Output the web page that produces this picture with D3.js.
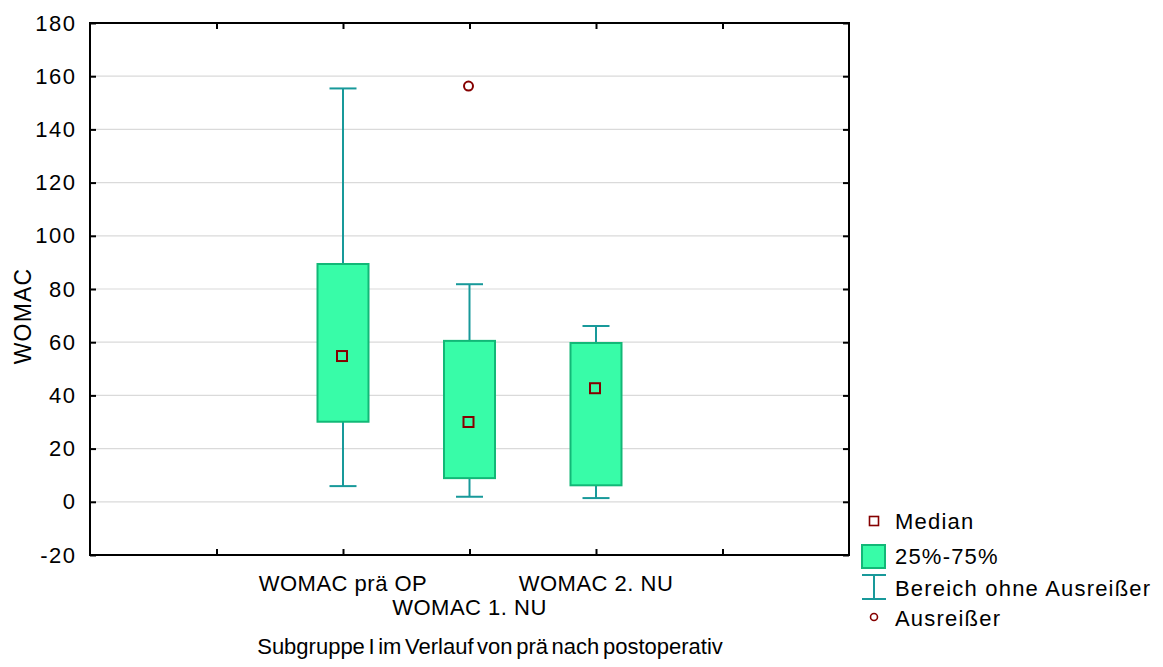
<!DOCTYPE html>
<html>
<head>
<meta charset="utf-8">
<script src="https://cdn.jsdelivr.net/npm/d3@7"></script>
<style>
  html, body { margin: 0; padding: 0; background: #fff; }
  svg text { font-family: "Liberation Sans", Arial, sans-serif; fill: #000; }
</style>
</head>
<body>
<svg id="chart" width="1163" height="667"></svg>
<script>
// Categories and their slot positions on the x axis
const categories = ["WOMAC prä OP", "WOMAC 1. NU", "WOMAC 2. NU"];
const slots = [2, 3, 4];
const labelRows = [0, 1, 0];

// Box statistics per category
const whiskerLow  = [5.9, 1.9, 1.4];
const q1          = [30.1, 8.9, 6.2];
const median      = [54.8, 30.0, 42.7];
const q3          = [89.4, 60.5, 59.7];
const whiskerHigh = [155.4, 81.8, 66.1];

// Outliers: category index and value
const outlierCat = [1];
const outlierVal = [156.3];

// Axis ticks
const yTicks = [-20, 0, 20, 40, 60, 80, 100, 120, 140, 160, 180];
const xTicks = [1, 2, 3, 4, 5];

const legendItems = ["Median", "25%-75%", "Bereich ohne Ausreißer", "Ausreißer"];

const C = {
  fill: "#38FCA8",
  stroke: "#12B877",
  whisker: "#18999A",
  median: "#850000",
  grid: "#DADADA"
};

const svg = d3.select("#chart");
const mLeft = 90, mRight = 849, mTop = 23, mBottom = 555;

const x = d3.scaleLinear().domain([0, 6]).range([mLeft, mRight]);
const y = d3.scaleLinear().domain([-20, 180]).range([mBottom, mTop]);

// Grid
svg.append("g").selectAll("line").data(yTicks.slice(1, -1)).join("line")
  .attr("x1", mLeft).attr("x2", mRight)
  .attr("y1", d => y(d)).attr("y2", d => y(d))
  .attr("stroke", C.grid).attr("stroke-width", 1.2);

// Axes with inward ticks
const fontSize = 22;
const gL = svg.append("g").attr("transform", `translate(${mLeft},0)`)
  .call(d3.axisLeft(y).tickValues(yTicks).tickSize(-6).tickPadding(13.5)
    .tickFormat(d => String(d)));
const gR = svg.append("g").attr("transform", `translate(${mRight},0)`)
  .call(d3.axisRight(y).tickValues(yTicks).tickSize(-6).tickFormat(""));
const gB = svg.append("g").attr("transform", `translate(0,${mBottom})`)
  .call(d3.axisBottom(x).tickValues(xTicks).tickSize(-6).tickFormat(""));
const gT = svg.append("g").attr("transform", `translate(0,${mTop})`)
  .call(d3.axisTop(x).tickValues(xTicks).tickSize(-6).tickFormat(""));

[gL, gR, gB, gT].forEach(g => {
  g.select(".domain").remove();
  g.selectAll(".tick line").attr("stroke", "#000").attr("stroke-width", 2);
});
gL.selectAll(".tick text")
  .attr("font-size", fontSize)
  .attr("font-family", "Liberation Sans, Arial, sans-serif")
  .attr("letter-spacing", 1.5)
  .attr("fill", "#000");

// Frame
svg.append("rect")
  .attr("x", mLeft).attr("y", mTop)
  .attr("width", mRight - mLeft).attr("height", mBottom - mTop)
  .attr("fill", "none").attr("stroke", "#000").attr("stroke-width", 2);

// Category labels (staggered)
svg.append("g").selectAll("text").data(categories).join("text")
  .attr("x", (d, i) => x(slots[i]))
  .attr("y", (d, i) => 591 + labelRows[i] * 24)
  .attr("text-anchor", "middle")
  .attr("font-size", fontSize)
  .attr("letter-spacing", 0.5)
  .text(d => d);

// Axis titles
svg.append("text")
  .attr("transform", "translate(31,316) rotate(-90)")
  .attr("text-anchor", "middle")
  .attr("font-size", 23)
  .attr("letter-spacing", 1.2)
  .text("WOMAC");

svg.append("text")
  .attr("x", 490).attr("y", 654)
  .attr("text-anchor", "middle")
  .attr("font-size", fontSize)
  .attr("word-spacing", -2.5)
  .text("Subgruppe I im Verlauf von prä nach postoperativ");

// Boxes
const boxW = 51, capW = 27;
const plot = svg.append("g");
categories.forEach((c, i) => {
  const cx = x(slots[i]);
  plot.append("line")
    .attr("x1", cx).attr("x2", cx)
    .attr("y1", y(whiskerHigh[i])).attr("y2", y(q3[i]))
    .attr("stroke", C.whisker).attr("stroke-width", 2);
  plot.append("line")
    .attr("x1", cx).attr("x2", cx)
    .attr("y1", y(q1[i])).attr("y2", y(whiskerLow[i]))
    .attr("stroke", C.whisker).attr("stroke-width", 2);
  [whiskerHigh[i], whiskerLow[i]].forEach(v => {
    plot.append("line")
      .attr("x1", cx - capW / 2).attr("x2", cx + capW / 2)
      .attr("y1", y(v)).attr("y2", y(v))
      .attr("stroke", C.whisker).attr("stroke-width", 2);
  });
  plot.append("rect")
    .attr("x", cx - boxW / 2).attr("y", y(q3[i]))
    .attr("width", boxW).attr("height", y(q1[i]) - y(q3[i]))
    .attr("fill", C.fill).attr("stroke", C.stroke).attr("stroke-width", 2);
  plot.append("rect")
    .attr("x", cx - 6).attr("y", y(median[i]) - 5)
    .attr("width", 10).attr("height", 10)
    .attr("fill", "none").attr("stroke", C.median).attr("stroke-width", 2);
});

// Outliers
plot.selectAll("circle.out").data(outlierVal).join("circle")
  .attr("class", "out")
  .attr("cx", (d, i) => x(slots[outlierCat[i]]) - 1)
  .attr("cy", d => y(d))
  .attr("r", 4.5)
  .attr("fill", "none").attr("stroke", C.median).attr("stroke-width", 2);

// Legend
const lg = svg.append("g");
const lx = 874, textX = 895;
const rowY = [521, 556, 588, 618];
lg.append("rect").attr("x", lx - 4.5).attr("y", rowY[0] - 4.5)
  .attr("width", 9).attr("height", 9)
  .attr("fill", "none").attr("stroke", C.median).attr("stroke-width", 1.6);
lg.append("rect").attr("x", 862).attr("y", 545)
  .attr("width", 23).attr("height", 23)
  .attr("fill", C.fill).attr("stroke", C.stroke).attr("stroke-width", 2);
lg.append("line").attr("x1", 862).attr("x2", 886).attr("y1", 575).attr("y2", 575)
  .attr("stroke", C.whisker).attr("stroke-width", 2);
lg.append("line").attr("x1", 862).attr("x2", 886).attr("y1", 599).attr("y2", 599)
  .attr("stroke", C.whisker).attr("stroke-width", 2);
lg.append("line").attr("x1", lx).attr("x2", lx).attr("y1", 575).attr("y2", 599)
  .attr("stroke", C.whisker).attr("stroke-width", 2);
lg.append("circle").attr("cx", lx).attr("cy", 617)
  .attr("r", 3.5).attr("fill", "none").attr("stroke", C.median).attr("stroke-width", 1.6);

lg.selectAll("text").data(legendItems).join("text")
  .attr("x", textX)
  .attr("y", (d, i) => rowY[i])
  .attr("dy", "0.36em")
  .attr("font-size", fontSize)
  .attr("letter-spacing", 1.2)
  .text(d => d);
</script>
</body>
</html>
